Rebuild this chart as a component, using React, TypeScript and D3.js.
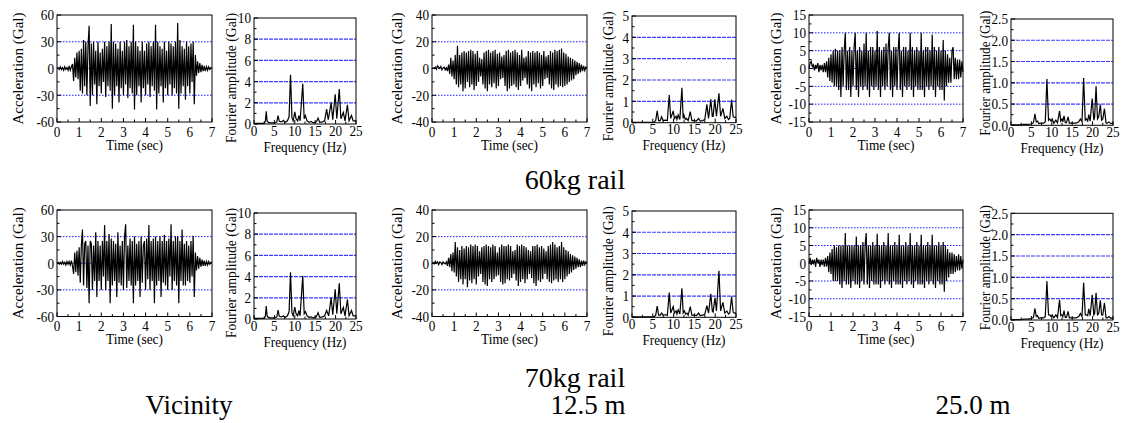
import React from "react";
import * as d3 from "d3";

// ---------- DATA ----------
const timeStep = 0.05; // seconds between samples

const acc60Vicinity = [
  0, 1, -1, 2, -1, 1, -2, 2, -1, 1, -2, 3, -2, 2, 5, -14, 12, -10, 18, -12,
  20, -25, 22, -28, 32, -20, 30, -30, 25, 48, -42, 28, -30, 30, -18, 20, -40, 30, -20, 18,
  -28, 22, -15, 30, -32, 25, -20, 30, -25, 50, -45, 30, -30, 28, -20, 22, -38, 30, -22, 20,
  -30, 30, -18, 32, -33, 25, -22, 30, -28, 49, -46, 30, -30, 25, -20, 20, -38, 30, -22, 20,
  -30, 28, -18, 30, -32, 25, -20, 30, -25, 49, -46, 30, -28, 25, -20, 22, -38, 30, -22, 20,
  -30, 30, -18, 28, -30, 25, -22, 30, -28, 51, -45, 32, -28, 25, -20, 22, -35, 30, -20, 25,
  -28, 28, -15, 30, -40, 15, -8, 8, -5, 6, -4, 4, -3, 3, -3, 2, -2, 2, -1, 1, 0,
];

const acc70Vicinity = [
  0, 1, -1, 1, -1, 2, -1, 1, -2, 2, -1, 2, -2, 3, -3, -12, 12, -10, 14, -14,
  18, -22, 20, 38, -25, 22, 25, -28, 20, -45, 25, 22, -30, 20, -20, 35, -38, 25, -20, 20,
  -30, 25, -15, 43, -30, 25, -20, 33, -45, 28, -25, 25, -20, 22, -38, 35, -22, 20, -25, 25,
  -30, 30, 44, -28, 20, -20, 28, -25, 25, -45, 30, -25, 22, -20, 25, -38, 30, -22, 20, 25,
  -30, 28, -18, 43, -30, 25, -20, 28, -45, 30, -25, 25, -20, 30, -38, 25, -22, 32, -25, 25,
  -30, 28, -15, 44, -30, 25, -20, 30, -25, 30, -45, 25, -20, 38, -25, 22, -25, 25, -20, 20,
  -22, 25, -15, 31, -38, 12, -8, 8, -6, 6, -4, 4, -3, 3, -3, 2, -2, 2, -1, 1, 0,
];

const acc60Mid = [
  0, 0.5, 0, 1, -0.5, 2, 1, 0, 1.5, -1, 0.5, 1, -1, 0.5, -2, 3, -4, 8, -6, 6,
  -8, 10, -12, 17, -14, 10, -12, 12, -17, 13, -15, 12, -10, 13, -14, 14, -12, 13, -16, 11,
  -13, 13, -10, 8, -6, 7, -12, 12, -15, 13, -17, 14, -12, 12, -14, 13, -11, 14, -15, 11,
  -13, 12, -8, 9, -7, 10, -13, 13, -17, 14, -15, 12, -13, 13, -12, 14, -14, 12, -16, 10,
  -13, 14, -9, 8, -7, 9, -12, 13, -15, 12, -17, 13, -12, 12, -14, 13, -11, 12, -15, 10,
  -13, 13, -8, 9, -7, 10, -12, 13, -15, 12, -16, 14, -12, 13, -14, 14, -13, 15, -14, 12,
  -13, 11, -12, 9, -10, 8, -9, 7, -8, 6, -5, 5, -4, 4, -3, 3, -2, 2, -1.5, 1, 0,
];

const acc70Mid = [
  0, 0.5, -0.5, 1.5, 0, 1, -1, 1, 0.5, -1, 1, 0, -0.5, 1, -2, 4, -3, 7, -6, 8,
  -7, 16, -10, 12, -14, 10, -12, 13, -16, 11, -12, 13, -18, 12, -13, 14, -15, 13, -12, 14,
  -16, 13, -10, 9, -8, 12, -14, 13, -16, 14, -17, 13, -12, 12, -14, 14, -12, 13, -10, 8,
  -9, 12, -14, 14, -16, 13, -15, 13, -12, 14, -13, 13, -11, 9, -8, 10, -13, 14, -17, 13,
  -14, 14, -12, 13, -15, 12, -12, 10, -8, 9, -11, 13, -15, 13, -17, 14, -13, 12, -14, 13,
  -12, 11, -8, 9, -12, 13, -14, 14, -15, 16, -13, 14, -12, 12, -14, 13, -12, 16, -14, 12,
  -12, 10, -10, 9, -8, 7, -7, 6, -5, 5, -4, 4, -3, 3, -3, 2, -2, 2, -1, 1, 0,
];

const acc60Far = [
  0, 1.5, 2, 0.5, 1, -0.5, 1, 0, 1.5, -1, 1, -0.5, 1, -1, 1.5, -1, 2, -2.5, 3, -3.5,
  4, -4, 5, -5, 5.5, -5, 5, -6, 5, -8, 6, -5, 5, 10, -6, 5, -6, 6, -8, 5,
  -5, 6, 10, -6, 5, -8, 6, -5, 5, -6, 7, -5, 10, -6, 5, -8, 6, -5, 6, -6,
  5, -5, 10.5, -6, 6, -8, 5, -5, 6, -6, 7, -5, 6, 10, -6, 5, -8, 6, -5, 6,
  -6, 5, 10, -6, 5, -8, 6, -5, 6, -6, 5, -5, 10, -6, 6, -8, 5, -5, 6, -6,
  5, -6, 10, -6, 5, -8, 6, -5, 6, -6, 5, -5, 9.5, -6, 6, -8, 5, -5, 6, -6,
  5, -6, 8, -9, 5, -5, 4, -4, 3, -4, 5, 6, -3, 3, -3, 2.5, -3, 2.5, -2.5, 2, -1,
];

const acc70Far = [
  0, 1.5, -0.5, 1, 0, 1, -1, 1.5, 0, 1, -1, 1, -0.5, 1, -1, 1.5, -1, 2, -2.5, 3,
  -3, 4, -5, 5, -5, 4.5, -5, 5, -6, 5, -7, 5, -5, 8.5, -6, 5, -6, 5, -7, 5,
  -5, 5, -6, 7.5, -6, 5, -7, 5, -5, 6, -6, 5, 8.5, -6, 5, -7, 5, -5, 6, -6,
  5, -6, 8.3, -6, 5, -7, 5, -5, 6, -6, 5, -5, 8.5, -6, 5, -7, 5, -5, 6, -6,
  5, -6, 8, -6, 5, -7, 5, -5, 6, -6, 5, -5, 8.5, -6, 5, -7, 5, -5, 6, -6,
  5, -6, 8, -6, 5, -7, 5, -5, 6, -6, 5, -5, 8, -6, 5, -7, 5, -5, 6, -6,
  5, -6, 6, -8, 5, -5, 4, -4, 3, -3, 3, -3, 2.5, -2.5, 2, -2, 2.5, -2, 2, -1.5, 1,
];

const fft60Vicinity: [number, number][] = [
  [0, 0.05], [2.5, 0.05], [2.8, 0.3], [3.0, 1.2], [3.2, 0.3], [3.5, 0.15], [4, 0.1], [5, 0.1],
  [5.6, 0.2], [5.9, 0.8], [6.2, 0.25], [6.8, 0.2], [7.2, 0.35], [7.6, 0.15], [8.2, 0.3], [8.6, 0.7],
  [8.95, 4.65], [9.3, 0.6], [9.6, 0.3], [10, 1.15], [10.3, 0.5], [10.7, 0.3], [11, 0.8], [11.3, 0.3],
  [11.95, 3.8], [12.3, 0.5], [12.6, 0.8], [13, 0.3], [13.5, 0.15], [14, 0.25], [14.5, 0.1], [15.3, 0.2],
  [15.7, 0.55], [16.1, 0.15], [16.8, 0.2], [17.3, 0.3], [17.8, 1.4], [18.2, 0.4], [18.9, 2.0], [19.3, 0.4],
  [19.9, 2.8], [20.3, 0.5], [20.9, 3.3], [21.3, 0.5], [21.9, 1.1], [22.3, 0.3], [22.9, 1.8], [23.3, 0.3],
  [23.9, 0.8], [24.3, 0.3], [25, 0.3],
];

const fft70Vicinity: [number, number][] = [
  [0, 0.05], [2.5, 0.05], [2.8, 0.3], [3.0, 1.23], [3.2, 0.3], [3.5, 0.15], [4, 0.1], [5, 0.1],
  [5.6, 0.2], [5.9, 0.85], [6.2, 0.25], [6.8, 0.2], [7.2, 0.3], [7.6, 0.15], [8.2, 0.3], [8.6, 0.7],
  [8.95, 4.4], [9.3, 0.6], [9.6, 0.3], [10, 1.13], [10.3, 0.5], [10.7, 0.3], [11, 0.8], [11.3, 0.3],
  [11.95, 4.07], [12.3, 0.5], [12.6, 0.7], [13, 0.3], [13.5, 0.15], [14, 0.2], [14.5, 0.1], [15.3, 0.2],
  [15.7, 0.6], [16.1, 0.15], [16.8, 0.2], [17.3, 0.3], [17.8, 0.8], [18.3, 0.3], [18.9, 2.0], [19.3, 0.4],
  [19.9, 2.8], [20.3, 0.5], [20.9, 3.37], [21.3, 0.5], [21.9, 1.1], [22.3, 0.3], [22.9, 1.83], [23.3, 0.3],
  [23.9, 0.8], [24.3, 0.3], [25, 0.3],
];

const fft60Mid: [number, number][] = [
  [0, 0.02], [5.3, 0.02], [5.7, 0.1], [6.05, 0.55], [6.4, 0.1], [6.8, 0.1], [7.1, 0.28], [7.5, 0.1],
  [8.0, 0.12], [8.5, 0.1], [8.95, 1.3], [9.3, 0.2], [9.9, 0.55], [10.2, 0.2], [10.6, 0.3], [10.8, 0.15],
  [11.1, 0.36], [11.5, 0.15], [12.0, 1.64], [12.3, 0.2], [12.5, 0.35], [12.8, 0.15], [13.1, 0.2], [13.5, 0.1],
  [14.0, 0.52], [14.4, 0.1], [15, 0.1], [15.5, 0.08], [16.0, 0.2], [16.4, 0.08], [17, 0.1], [17.5, 0.15],
  [18.0, 0.86], [18.4, 0.2], [18.95, 1.1], [19.3, 0.3], [19.5, 0.3], [19.9, 1.1], [20.3, 0.3], [20.9, 1.38],
  [21.3, 0.3], [21.85, 0.67], [22.3, 0.2], [22.8, 0.3], [23.2, 0.15], [23.5, 0.2], [23.95, 1.07], [24.3, 0.3],
  [24.6, 0.25], [25, 0.25],
];

const fft70Mid: [number, number][] = [
  [0, 0.02], [5.3, 0.02], [5.7, 0.1], [6.05, 0.53], [6.4, 0.1], [6.8, 0.1], [7.1, 0.2], [7.5, 0.1],
  [8.0, 0.12], [8.5, 0.1], [8.95, 1.16], [9.3, 0.2], [9.9, 0.5], [10.2, 0.2], [10.6, 0.3], [10.8, 0.15],
  [11.1, 0.35], [11.5, 0.15], [12.0, 1.36], [12.3, 0.2], [12.6, 0.3], [12.9, 0.15], [13.2, 0.2], [13.5, 0.1],
  [14.0, 0.5], [14.4, 0.1], [15, 0.1], [15.5, 0.08], [16.0, 0.2], [16.4, 0.08], [17, 0.1], [17.5, 0.15],
  [18.0, 0.55], [18.4, 0.2], [18.95, 1.1], [19.3, 0.3], [19.5, 0.25], [19.95, 0.92], [20.3, 0.3], [20.9, 2.19],
  [21.3, 0.3], [21.85, 0.7], [22.3, 0.2], [22.8, 0.3], [23.2, 0.15], [23.5, 0.2], [23.95, 0.98], [24.3, 0.25],
  [24.6, 0.2], [25, 0.2],
];

const fft60Far: [number, number][] = [
  [0, 0.01], [2.5, 0.01], [3, 0.02], [4, 0.02], [5, 0.03], [5.5, 0.06], [5.86, 0.27], [6.2, 0.08],
  [6.5, 0.1], [6.8, 0.04], [7.2, 0.05], [8, 0.05], [8.4, 0.08], [8.8, 1.09], [9.2, 0.12], [9.5, 0.15],
  [9.8, 0.1], [10.1, 0.15], [10.5, 0.05], [11, 0.12], [11.4, 0.06], [11.9, 0.34], [12.2, 0.1], [12.5, 0.15],
  [12.7, 0.08], [13, 0.22], [13.3, 0.06], [13.6, 0.06], [14, 0.2], [14.3, 0.05], [15, 0.05], [16, 0.05],
  [16.6, 0.08], [17, 0.15], [17.4, 0.08], [17.8, 1.11], [18.2, 0.12], [18.5, 0.15], [18.8, 0.1], [19.05, 0.25],
  [19.4, 0.1], [19.9, 0.63], [20.3, 0.12], [20.5, 0.2], [20.85, 0.92], [21.2, 0.15], [21.5, 0.2], [21.9, 0.49],
  [22.2, 0.12], [22.5, 0.15], [22.9, 0.39], [23.3, 0.05], [23.6, 0.05], [24, 0.08], [24.5, 0.04], [25, 0.05],
];

const fft70Far: [number, number][] = [
  [0, 0.01], [2.5, 0.01], [3, 0.02], [4, 0.02], [5, 0.03], [5.5, 0.06], [5.86, 0.27], [6.2, 0.08],
  [6.5, 0.1], [6.8, 0.04], [7.2, 0.05], [8, 0.05], [8.4, 0.08], [8.8, 0.91], [9.2, 0.12], [9.5, 0.12],
  [9.8, 0.08], [10.1, 0.12], [10.5, 0.05], [11, 0.12], [11.4, 0.06], [11.9, 0.47], [12.2, 0.1], [12.5, 0.12],
  [12.7, 0.08], [13, 0.22], [13.3, 0.06], [13.6, 0.06], [14, 0.2], [14.3, 0.05], [15, 0.05], [16, 0.05],
  [16.6, 0.08], [17, 0.15], [17.4, 0.08], [17.8, 0.875], [18.2, 0.12], [18.5, 0.12], [18.8, 0.1], [19.05, 0.26],
  [19.4, 0.1], [19.9, 0.59], [20.3, 0.12], [20.5, 0.15], [20.85, 0.64], [21.2, 0.12], [21.5, 0.15], [21.9, 0.46],
  [22.2, 0.12], [22.5, 0.12], [22.9, 0.4], [23.3, 0.05], [23.6, 0.05], [24, 0.08], [24.5, 0.04], [25, 0.05],
];

const timeTicks = [0, 1, 2, 3, 4, 5, 6, 7];
const freqTicks = [0, 5, 10, 15, 20, 25];
const accTicksVicinity = [-60, -30, 0, 30, 60];
const accTicksMid = [-40, -20, 0, 20, 40];
const accTicksFar = [-15, -10, -5, 0, 5, 10, 15];
const fftTicksVicinity = [0, 2, 4, 6, 8, 10];
const fftTicksMid = [0, 1, 2, 3, 4, 5];
const fftTicksFar = [0, 0.5, 1, 1.5, 2, 2.5];
const accGridVicinity = [-30, 0, 30];
const accGridMid = [-20, 0, 20];
const accGridFar = [-10, -5, 0, 5, 10];
const fftGridVicinity = [2, 4, 6, 8];
const fftGridMid = [1, 2, 3, 4];
const fftGridFar = [0.5, 1, 1.5, 2];

const rowTitles = ["60kg rail", "70kg rail"];
const colTitles = ["Vicinity", "12.5 m", "25.0 m"];

// ---------- LAYOUT ----------
const FONT = '"Liberation Serif", "Times New Roman", Tinos, "DejaVu Serif", serif';
const SQ = 0.88; // horizontal squeeze of small text
const GRID = "#1a1aff";

type Box = { x0: number; x1: number; y0: number; y1: number };

const HText = ({ x, y, anchor = "middle", size = 15, dy, children }: any) => (
  <text
    transform={`translate(${x},${y}) scale(${SQ},1)`}
    textAnchor={anchor}
    dy={dy}
    fill="#000"
    style={{ fontFamily: FONT, fontSize: size }}
  >
    {children}
  </text>
);

function TimePanel({ box, values, yTicks, grid, labelOffset }: any) {
  const b: Box = box;
  const x = d3.scaleLinear().domain([0, 7]).range([b.x0, b.x1]);
  const y = d3.scaleLinear().domain([yTicks[0], yTicks[yTicks.length - 1]]).range([b.y1, b.y0]);
  const line = d3
    .line<number>()
    .x((_, i) => x(i * timeStep))
    .y((d) => y(d));
  const ystep = yTicks[1] - yTicks[0];
  const yMinor = d3.range(yTicks[0], yTicks[yTicks.length - 1] + 1e-9, ystep / 2);
  const xMinor = d3.range(0, 7.0001, 0.5);
  return (
    <g>
      {grid.map((g: number) => (
        <line key={g} x1={b.x0} x2={b.x1} y1={y(g)} y2={y(g)} stroke={GRID} strokeWidth={1} strokeDasharray="1.5,1.5" />
      ))}
      <path d={line(values) || ""} fill="none" stroke="#000" strokeWidth={1.2} strokeLinejoin="miter" />
      <rect x={b.x0} y={b.y0} width={b.x1 - b.x0} height={b.y1 - b.y0} fill="none" stroke="#000" strokeWidth={1} />
      {yMinor.map((v) => {
        const major = yTicks.some((t: number) => Math.abs(t - v) < 1e-9);
        return <line key={"ym" + v} x1={b.x0} x2={b.x0 + (major ? 4 : 2.5)} y1={y(v)} y2={y(v)} stroke="#000" />;
      })}
      {xMinor.map((v) => {
        const major = Math.abs(v - Math.round(v)) < 1e-9;
        return <line key={"xm" + v} x1={x(v)} x2={x(v)} y1={b.y1} y2={b.y1 - (major ? 4 : 2.5)} stroke="#000" />;
      })}
      {yTicks.map((t: number) => (
        <HText key={"yl" + t} x={b.x0 - 3} y={y(t)} anchor="end" dy="0.35em">
          {String(t)}
        </HText>
      ))}
      {timeTicks.map((t) => (
        <HText key={"xl" + t} x={x(t)} y={b.y1 + 14.5}>
          {String(t)}
        </HText>
      ))}
      <text x={(b.x0 + b.x1) / 2} y={b.y1 + 27.5} textAnchor="middle" style={{ fontFamily: FONT, fontSize: 15 }} textLength={57} lengthAdjust="spacingAndGlyphs">
        Time (sec)
      </text>
      <text
        transform={`translate(${b.x0 - labelOffset},${(b.y0 + b.y1) / 2}) rotate(-90)`}
        textAnchor="middle"
        style={{ fontFamily: FONT, fontSize: 15 }}
        textLength={112}
        lengthAdjust="spacingAndGlyphs"
      >
        Acceleration (Gal)
      </text>
    </g>
  );
}

function FftPanel({ box, values, yTicks, grid, labelOffset, labelShift, labelLen, fmt }: any) {
  const b: Box = box;
  const x = d3.scaleLinear().domain([0, 25]).range([b.x0, b.x1]);
  const y = d3.scaleLinear().domain([yTicks[0], yTicks[yTicks.length - 1]]).range([b.y1, b.y0]);
  const line = d3
    .line<[number, number]>()
    .x((d) => x(d[0]))
    .y((d) => y(d[1]));
  const ystep = yTicks[1] - yTicks[0];
  const yMinor = d3.range(yTicks[0], yTicks[yTicks.length - 1] + 1e-9, ystep / 2);
  const xMinor = d3.range(0, 25.0001, 2.5);
  return (
    <g>
      {grid.map((g: number) => (
        <line key={g} x1={b.x0} x2={b.x1} y1={y(g)} y2={y(g)} stroke={GRID} strokeOpacity={0.85} strokeWidth={1.2} strokeDasharray="4,1" />
      ))}
      <path d={line(values) || ""} fill="none" stroke="#000" strokeWidth={1.2} />
      <rect x={b.x0} y={b.y0} width={b.x1 - b.x0} height={b.y1 - b.y0} fill="none" stroke="#000" strokeWidth={1} />
      {yMinor.map((v) => {
        const major = yTicks.some((t: number) => Math.abs(t - v) < 1e-9);
        return <line key={"ym" + v} x1={b.x0} x2={b.x0 + (major ? 4 : 2.5)} y1={y(v)} y2={y(v)} stroke="#000" />;
      })}
      {xMinor.map((v) => {
        const major = Math.abs(v / 5 - Math.round(v / 5)) < 1e-9;
        return <line key={"xm" + v} x1={x(v)} x2={x(v)} y1={b.y1} y2={b.y1 - (major ? 4 : 2.5)} stroke="#000" />;
      })}
      {yTicks.map((t: number) => (
        <HText key={"yl" + t} x={b.x0 - 3} y={y(t)} anchor="end" dy="0.35em">
          {fmt(t)}
        </HText>
      ))}
      {freqTicks.map((t) => (
        <HText key={"xl" + t} x={x(t)} y={b.y1 + 11.5}>
          {String(t)}
        </HText>
      ))}
      <text x={(b.x0 + b.x1) / 2} y={b.y1 + 27.5} textAnchor="middle" style={{ fontFamily: FONT, fontSize: 15 }} textLength={83} lengthAdjust="spacingAndGlyphs">
        Frequency (Hz)
      </text>
      <text
        transform={`translate(${b.x0 - labelOffset},${(b.y0 + b.y1) / 2 + labelShift}) rotate(-90)`}
        textAnchor="middle"
        style={{ fontFamily: FONT, fontSize: 15 }}
        textLength={labelLen}
        lengthAdjust="spacingAndGlyphs"
      >
        Fourier amplitude (Gal)
      </text>
    </g>
  );
}

const intFmt = (v: number) => String(v);
const oneDec = (v: number) => v.toFixed(1);

const columns = [
  {
    timeX: [57, 212], fftX: [254, 356], accTicks: accTicksVicinity, accGrid: accGridVicinity,
    fftTicks: fftTicksVicinity, fftGrid: fftGridVicinity, accOff: 34, fftOff: 18.5, fftShift: 7, fftLen: 130, fmt: intFmt,
    acc: [acc60Vicinity, acc70Vicinity], fft: [fft60Vicinity, fft70Vicinity],
    fftY: [[18, 124], [213, 319]],
  },
  {
    timeX: [432, 587], fftX: [632, 736], accTicks: accTicksMid, accGrid: accGridMid,
    fftTicks: fftTicksMid, fftGrid: fftGridMid, accOff: 30, fftOff: 19.5, fftShift: 7, fftLen: 130, fmt: intFmt,
    acc: [acc60Mid, acc70Mid], fft: [fft60Mid, fft70Mid],
    fftY: [[16, 122.7], [211, 317.3]],
  },
  {
    timeX: [809, 963], fftX: [1011, 1113], accTicks: accTicksFar, accGrid: accGridFar,
    fftTicks: fftTicksFar, fftGrid: fftGridFar, accOff: 28, fftOff: 21, fftShift: 1, fftLen: 125, fmt: oneDec,
    acc: [acc60Far, acc70Far], fft: [fft60Far, fft70Far],
    fftY: [[19, 125.3], [213.3, 320]],
  },
];

const timeRowsY = [[15, 122], [210, 316.5]];

const rowStyle = { fontFamily: FONT, fontSize: 28 };
const colStyle = { fontFamily: FONT, fontSize: 27 };

export default function App() {
  return (
    <svg
      width={1124}
      height={423}
      viewBox="0 0 1124 423"
      style={{ position: "absolute", left: 0, top: 0, background: "#fff", fontFamily: FONT }}
    >
      <rect x={0} y={0} width={1124} height={423} fill="#fff" />
      {columns.map((c, ci) =>
        [0, 1].map((r) => (
          <g key={ci + "-" + r}>
            <TimePanel
              box={{ x0: c.timeX[0], x1: c.timeX[1], y0: timeRowsY[r][0], y1: timeRowsY[r][1] }}
              values={c.acc[r]}
              yTicks={c.accTicks}
              grid={c.accGrid}
              labelOffset={c.accOff}
            />
            <FftPanel
              box={{ x0: c.fftX[0], x1: c.fftX[1], y0: c.fftY[r][0], y1: c.fftY[r][1] }}
              values={c.fft[r]}
              yTicks={c.fftTicks}
              grid={c.fftGrid}
              labelOffset={c.fftOff}
              labelShift={c.fftShift}
              labelLen={c.fftLen}
              fmt={c.fmt}
            />
          </g>
        ))
      )}
      <text x={575} y={189} textAnchor="middle" style={rowStyle}>{rowTitles[0]}</text>
      <text x={575} y={387} textAnchor="middle" style={rowStyle}>{rowTitles[1]}</text>
      <text x={189} y={414} textAnchor="middle" style={colStyle}>{colTitles[0]}</text>
      <text x={588} y={414} textAnchor="middle" style={colStyle}>{colTitles[1]}</text>
      <text x={973} y={414} textAnchor="middle" style={colStyle}>{colTitles[2]}</text>
    </svg>
  );
}
